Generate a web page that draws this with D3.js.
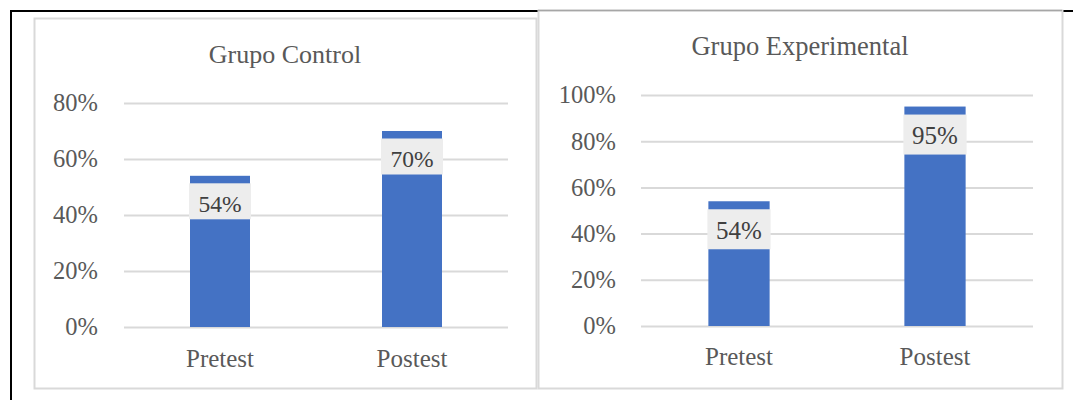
<!DOCTYPE html>
<html>
<head>
<meta charset="utf-8">
<script src="https://cdn.jsdelivr.net/npm/d3@7"></script>
<style>
  html, body { margin: 0; padding: 0; background: #fff; }
  svg { display: block; }
  text { font-family: "Liberation Serif", "Times New Roman", serif; }
</style>
</head>
<body>
<svg id="fig" width="1073" height="400"></svg>
<script>
// Categories and percentages for both groups
const categories = ["Pretest", "Postest"];
const controlValues = [0.54, 0.70];
const experimentalValues = [0.54, 0.95];
const controlTicks = [0, 0.2, 0.4, 0.6, 0.8];
const experimentalTicks = [0, 0.2, 0.4, 0.6, 0.8, 1.0];
const controlTitle = "Grupo Control";
const experimentalTitle = "Grupo Experimental";

const svg = d3.select("#fig");
svg.append("rect").attr("width", 1073).attr("height", 400).attr("fill", "#fff");

const pct = d3.format(".0%");

function drawPanel(cfg) {
  const g = svg.append("g");

  // panel frame
  g.append("rect")
    .attr("x", cfg.box[0] + 0.5).attr("y", cfg.box[1] + 0.5)
    .attr("width", cfg.box[2] - cfg.box[0]).attr("height", cfg.box[3] - cfg.box[1])
    .attr("fill", "#fff").attr("stroke", "#d9d9d9").attr("stroke-width", 2);

  // title
  g.append("text")
    .attr("x", (cfg.box[0] + cfg.box[2]) / 2).attr("y", cfg.titleY)
    .attr("text-anchor", "middle")
    .attr("font-size", cfg.titleSize).attr("fill", "#595959")
    .text(cfg.title);

  const x = d3.scaleBand().domain(categories)
    .range([cfg.plot[0], cfg.plot[2]])
    .paddingInner(0.6875).paddingOuter(0.34375);
  const y = d3.scaleLinear().domain([0, cfg.max]).range([cfg.plot[3], cfg.plot[1]]);

  // gridlines
  const grid = g.append("g")
    .attr("transform", `translate(${cfg.plot[0]},0)`)
    .call(d3.axisLeft(y).tickValues(cfg.ticks).tickSize(-(cfg.plot[2] - cfg.plot[0])).tickFormat(""));
  grid.select(".domain").remove();
  grid.selectAll("line").attr("stroke", "#d9d9d9").attr("stroke-width", 2);

  // y tick labels
  const yAxis = g.append("g")
    .attr("transform", `translate(${cfg.plot[0] - cfg.tickGap},0)`)
    .call(d3.axisLeft(y).tickValues(cfg.ticks).tickSize(0).tickPadding(0).tickFormat(pct));
  yAxis.select(".domain").remove();
  yAxis.selectAll("text")
    .attr("font-family", "Liberation Serif, serif")
    .attr("font-size", cfg.tickSize).attr("fill", "#595959");

  // category labels
  const xAxis = g.append("g")
    .attr("transform", `translate(0,${cfg.plot[3]})`)
    .call(d3.axisBottom(x).tickSize(0).tickPadding(0));
  xAxis.select(".domain").remove();
  xAxis.selectAll("text")
    .attr("font-family", "Liberation Serif, serif")
    .attr("font-size", cfg.catSize).attr("fill", "#595959")
    .attr("dy", null).attr("y", cfg.catOffset);

  // bars
  g.selectAll(".bar").data(cfg.values).join("rect")
    .attr("class", "bar")
    .attr("x", (d, i) => x(categories[i]))
    .attr("y", d => y(d))
    .attr("width", x.bandwidth())
    .attr("height", d => y(0) - y(d))
    .attr("fill", "#4472c4");

  // value labels with light boxes near the bar tops
  const lab = g.selectAll(".lab").data(cfg.values).join("g").attr("class", "lab");
  lab.append("rect")
    .attr("x", (d, i) => x(categories[i]) - 1)
    .attr("y", d => y(d) + cfg.labelInset)
    .attr("width", x.bandwidth() + 2)
    .attr("height", cfg.labelBox)
    .attr("fill", "#ededed");
  lab.append("text")
    .attr("x", (d, i) => x(categories[i]) + x.bandwidth() / 2)
    .attr("y", d => y(d) + cfg.labelInset + cfg.labelBase)
    .attr("text-anchor", "middle")
    .attr("font-size", cfg.labelSize).attr("fill", "#404040")
    .text(d => pct(d));
}

// outer black frame
svg.append("line").attr("x1", 10).attr("x2", 538).attr("y1", 11).attr("y2", 11)
  .attr("stroke", "#000").attr("stroke-width", 2);
svg.append("line").attr("x1", 1063).attr("x2", 1073).attr("y1", 11).attr("y2", 11)
  .attr("stroke", "#000").attr("stroke-width", 2);
svg.append("line").attr("x1", 11).attr("x2", 11).attr("y1", 10).attr("y2", 400)
  .attr("stroke", "#000").attr("stroke-width", 2);

drawPanel({
  box: [34, 18, 536, 388],
  plot: [124, 103, 508, 327],
  max: 0.8,
  ticks: controlTicks,
  values: controlValues,
  title: controlTitle,
  titleY: 63, titleSize: 26,
  tickSize: 24.5, tickGap: 26,
  catSize: 25, catOffset: 40,
  labelSize: 23.5, labelInset: 7.5, labelBox: 36, labelBase: 28.5
});

drawPanel({
  box: [538, 10, 1062, 388],
  plot: [641, 95, 1033, 326],
  max: 1.0,
  ticks: experimentalTicks,
  values: experimentalValues,
  title: experimentalTitle,
  titleY: 55, titleSize: 26.5,
  tickSize: 24.5, tickGap: 25,
  catSize: 25, catOffset: 39,
  labelSize: 25, labelInset: 8, labelBox: 40, labelBase: 29.5
});
svg.append("line").attr("x1", 538).attr("x2", 1062).attr("y1", 10.5).attr("y2", 10.5)
  .attr("stroke", "#a6a6a6").attr("stroke-width", 1.5);
</script>
</body>
</html>
